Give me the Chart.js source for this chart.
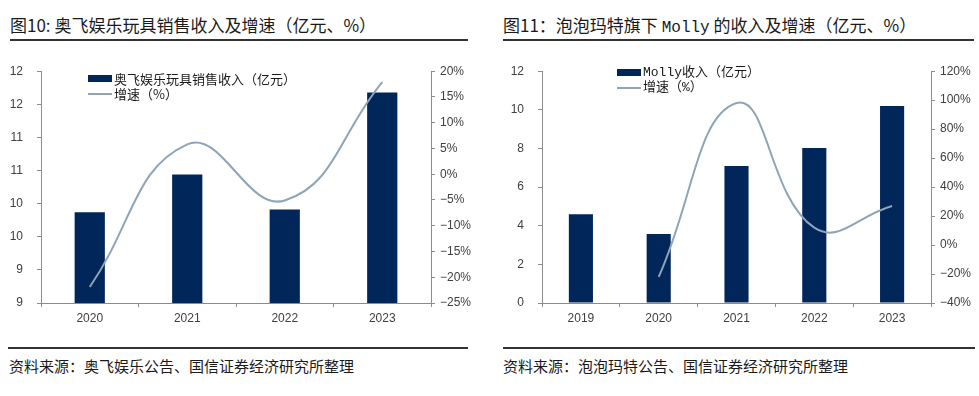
<!DOCTYPE html>
<html>
<head>
<meta charset="utf-8">
<script src="https://cdn.jsdelivr.net/npm/chart.js@4"></script>
<style>
    body { margin: 0; width: 979px; height: 396px; background: #fff; position: relative; overflow: hidden; font-family: "Noto Sans CJK SC", sans-serif; color: #1a1a1a; }
    .title { position: absolute; top: 12px; font-size: 17px; white-space: nowrap; }
    .rule { position: absolute; height: 2px; background: #333; }
    .source { position: absolute; top: 355px; font-size: 15px; white-space: nowrap; }
    .box { position: absolute; top: 50px; height: 285px; }
    .legend { position: absolute; font-size: 13px; line-height: 15px; white-space: nowrap; }
    .legend div { display: flex; align-items: center; }
    .swatch-bar { display: inline-block; width: 24px; height: 7px; background: #00265a; margin-right: 2px; }
    .swatch-line { display: inline-block; width: 24px; height: 2px; background: #8ea4b9; margin-right: 2px; }
    .mono { font-family: "Liberation Mono", "Noto Sans CJK SC", monospace; }
</style>
</head>
<body>
<div class="title" style="left:10px">图10: 奥飞娱乐玩具销售收入及增速（亿元、%）</div>
<div class="rule" style="left:10px; top:39px; width:458px"></div>
<div class="title" style="left:503px">图11：泡泡玛特旗下 <span class="mono" style="font-size:16px">Molly</span> 的收入及增速（亿元、%）</div>
<div class="rule" style="left:503px; top:39px; width:471px"></div>

<div class="box" style="left:0; width:480px"><canvas id="leftChart"></canvas></div>
<div class="box" style="left:490px; width:489px"><canvas id="rightChart"></canvas></div>

<div class="legend" style="left:88px; top:71px">
    <div><span class="swatch-bar"></span>奥飞娱乐玩具销售收入（亿元）</div>
    <div><span class="swatch-line"></span>增速（%）</div>
</div>
<div class="legend mono" style="left:617px; top:65px">
    <div><span class="swatch-bar"></span>Molly收入（亿元）</div>
    <div><span class="swatch-line"></span>增速（%）</div>
</div>

<div class="rule" style="left:8px; top:347px; width:460px"></div>
<div class="source" style="left:9px">资料来源：奥飞娱乐公告、国信证券经济研究所整理</div>
<div class="rule" style="left:503px; top:347px; width:472px"></div>
<div class="source" style="left:503px">资料来源：泡泡玛特公告、国信证券经济研究所整理</div>

<script>
// 图10 奥飞娱乐
const aofeiYears = ['2020', '2021', '2022', '2023'];
const aofeiRevenue = [9.87, 10.44, 9.91, 11.68];
const aofeiGrowth = [-21.9, 5.8, -5.1, 17.9];
const aofeiRevenueTicks = ['9', '9', '10', '10', '11', '11', '12', '12'];

// 图11 Molly
const mollyYears = ['2019', '2020', '2021', '2022', '2023'];
const mollyRevenue = [4.59, 3.57, 7.09, 8.02, 10.20];
const mollyGrowth = [null, -22, 98, 12, 27];

const barColor = '#00265a';
const lineColor = '#8ea4b9';
const axisColor = '#8c8c8c';
const tickFont = { family: '"Liberation Sans", Arial, sans-serif', size: 12 };

function pct(v) {
    return (v < 0 ? '\u2212' + Math.abs(v) : v) + '%';
}

function axis(position, opts, width) {
    return Object.assign({
        position: position,
        border: { display: true, color: axisColor, width: 1 },
        grid: { drawOnChartArea: false, drawTicks: true, tickLength: 4, color: axisColor },
        afterFit: scale => { scale.width = width; }
    }, opts);
}

function makeChart(id, years, revenue, growth, cfg) {
    return new Chart(document.getElementById(id), {
        data: {
            labels: years,
            datasets: [
                {
                    type: 'line',
                    data: growth,
                    yAxisID: 'y1',
                    borderColor: lineColor,
                    borderWidth: 2,
                    pointRadius: 0,
                    tension: 0.45,
                    order: 0
                },
                {
                    type: 'bar',
                    data: revenue,
                    yAxisID: 'y',
                    backgroundColor: barColor,
                    barPercentage: 0.31,
                    categoryPercentage: 1,
                    order: 1
                }
            ]
        },
        options: {
            responsive: true,
            maintainAspectRatio: false,
            animation: false,
            layout: { padding: { top: cfg.top, left: 0, right: 0, bottom: 0 } },
            plugins: { legend: { display: false }, tooltip: { enabled: false } },
            scales: {
                x: {
                    border: { display: true, color: axisColor },
                    grid: { drawOnChartArea: false, drawTicks: true, tickLength: 4, color: axisColor, offset: true },
                    ticks: { font: tickFont, color: '#404040', padding: 4, maxRotation: 0 },
                    afterFit: scale => { scale.height = cfg.xHeight; }
                },
                y: axis('left', {
                    min: cfg.yMin, max: cfg.yMax,
                    ticks: { stepSize: cfg.yStep, font: tickFont, color: '#404040', padding: 14, callback: cfg.yLabel }
                }, cfg.leftWidth),
                y1: axis('right', {
                    min: cfg.pMin, max: cfg.pMax,
                    ticks: { stepSize: cfg.pStep, font: tickFont, color: '#404040', padding: 5, callback: v => pct(v) }
                }, cfg.rightWidth)
            }
        }
    });
}

makeChart('leftChart', aofeiYears, aofeiRevenue, aofeiGrowth, {
    top: 10, xHeight: 32, leftWidth: 41, rightWidth: 49,
    yMin: 8.5, yMax: 12, yStep: 0.5, yLabel: (v, i) => aofeiRevenueTicks[i],
    pMin: -25, pMax: 20, pStep: 5
});

makeChart('rightChart', mollyYears, mollyRevenue, mollyGrowth, {
    top: 12, xHeight: 32, leftWidth: 52, rightWidth: 48,
    yMin: 0, yMax: 12, yStep: 2, yLabel: v => v,
    pMin: -40, pMax: 120, pStep: 20
});
</script>
</body>
</html>
